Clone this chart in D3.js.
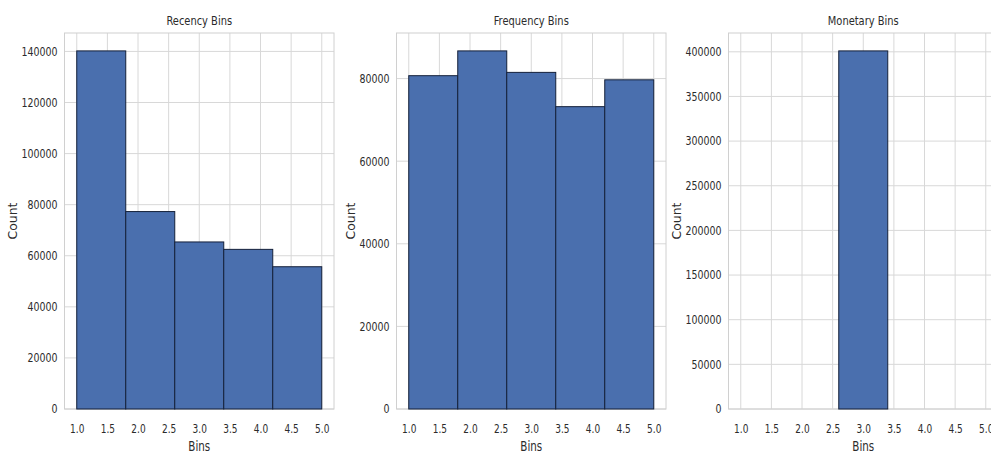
<!DOCTYPE html>
<html>
<head>
<meta charset="utf-8">
<script src="https://cdn.jsdelivr.net/npm/d3@7"></script>
<style>
  html, body { margin: 0; padding: 0; background: #ffffff; }
  svg { display: block; }
  text { font-family: "DejaVu Sans Condensed", "DejaVu Sans", sans-serif; font-stretch: condensed; fill: #2b2b2b; }
  text.tall { transform: scaleY(1.15); transform-box: fill-box; transform-origin: center; }
</style>
</head>
<body>
<svg id="chart" width="991" height="455"></svg>
<script>
// Histogram bin edges shared by all three panels (5 bins over 1..5)
const binEdges = [1.0, 1.8, 2.6, 3.4, 4.2, 5.0];

// Counts per bin
const recencyCounts   = [140200, 77300, 65400, 62500, 55700];
const frequencyCounts = [80700, 86700, 81500, 73200, 79700];
const monetaryCounts  = [0, 0, 401000, 0, 0];

// Tick values
const xTicks = [1.0, 1.5, 2.0, 2.5, 3.0, 3.5, 4.0, 4.5, 5.0];
const recencyYTicks   = [0, 20000, 40000, 60000, 80000, 100000, 120000, 140000];
const frequencyYTicks = [0, 20000, 40000, 60000, 80000];
const monetaryYTicks  = [0, 50000, 100000, 150000, 200000, 250000, 300000, 350000, 400000];

const titles = ["Recency Bins", "Frequency Bins", "Monetary Bins"];

const panels = [
  { title: titles[0], counts: recencyCounts,   yTicks: recencyYTicks },
  { title: titles[1], counts: frequencyCounts, yTicks: frequencyYTicks },
  { title: titles[2], counts: monetaryCounts,  yTicks: monetaryYTicks }
];

const svg = d3.select("#chart");
const lefts = [64.5, 396.5, 728.5];
const panelW = 269.5;
const plotTop = 33, plotBottom = 409;

const barFill = "#4a6fae";
const gridColor = "#d8d8d8";

panels.forEach((p, i) => {
  const g = svg.append("g").attr("transform", `translate(${lefts[i]},0)`);

  // matplotlib-style autoscale: 5% margin on x, 5% headroom on y
  const x = d3.scaleLinear().domain([0.8, 5.2]).range([0, panelW]);
  const y = d3.scaleLinear().domain([0, d3.max(p.counts) * 1.05]).range([plotBottom, plotTop]);

  // grid
  g.append("g").selectAll("line").data(xTicks).join("line")
    .attr("x1", d => x(d)).attr("x2", d => x(d))
    .attr("y1", plotTop).attr("y2", plotBottom)
    .attr("stroke", gridColor).attr("stroke-width", 1);
  g.append("g").selectAll("line").data(p.yTicks).join("line")
    .attr("x1", 0).attr("x2", panelW)
    .attr("y1", d => y(d)).attr("y2", d => y(d))
    .attr("stroke", gridColor).attr("stroke-width", 1);

  // frame
  g.append("rect").attr("x", 0).attr("y", plotTop)
    .attr("width", panelW).attr("height", plotBottom - plotTop)
    .attr("fill", "none").attr("stroke", "#d0d0d0").attr("stroke-width", 1);

  // bars
  const bins = p.counts.map((c, k) => ({ x0: binEdges[k], x1: binEdges[k + 1], c }));
  g.append("g").selectAll("rect").data(bins.filter(b => b.c > 0)).join("rect")
    .attr("x", d => x(d.x0))
    .attr("width", d => x(d.x1) - x(d.x0))
    .attr("y", d => y(d.c))
    .attr("height", d => y(0) - y(d.c))
    .attr("fill", barFill)
    .attr("stroke", "#14203a").attr("stroke-width", 1);

  // axes (labels only, no tick marks)
  const xAxis = d3.axisBottom(x).tickValues(xTicks).tickFormat(d3.format(".1f")).tickSize(0).tickPadding(16);
  const xa = g.append("g").attr("transform", `translate(0,${plotBottom})`).call(xAxis);
  xa.select(".domain").remove();
  xa.attr("font-family", null).attr("font-size", null);
  xa.selectAll("text").attr("font-size", 10).attr("fill", "#2b2b2b").attr("class", "tall");

  const yAxis = d3.axisLeft(y).tickValues(p.yTicks).tickFormat(d3.format("d")).tickSize(0).tickPadding(7);
  const ya = g.append("g").call(yAxis);
  ya.select(".domain").remove();
  ya.attr("font-family", null).attr("font-size", null);
  ya.selectAll("text").attr("font-size", 10.5).attr("fill", "#2b2b2b").attr("class", "tall");

  // title
  g.append("text").attr("class", "tall").attr("x", panelW / 2).attr("y", 24)
    .attr("text-anchor", "middle").attr("font-size", 11).text(p.title);

  // x label
  g.append("text").attr("class", "tall").attr("x", panelW / 2).attr("y", 450)
    .attr("text-anchor", "middle").attr("font-size", 11.5).text("Bins");

  // y label, placed left of the widest tick label
  let minX = 0;
  ya.selectAll("text").each(function () {
    const b = this.getBBox();
    minX = Math.min(minX, b.x);
  });
  g.append("text")
    .attr("transform", `translate(${minX - 9},${(plotTop + plotBottom) / 2}) rotate(-90) scale(1.15,1)`)
    .attr("text-anchor", "middle").attr("dominant-baseline", "central")
    .attr("font-size", 12).text("Count");
});
</script>
</body>
</html>
